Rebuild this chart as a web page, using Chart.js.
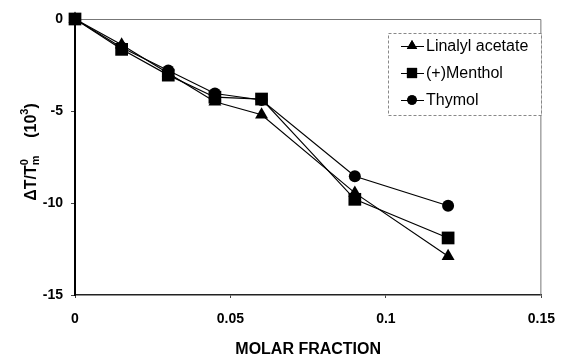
<!DOCTYPE html>
<html>
  <head>
    <meta charset="UTF-8">
    <title>Molar fraction chart</title>
    <script src="https://cdn.jsdelivr.net/npm/chart.js"></script>
    <style>
      html, body { margin: 0; padding: 0; background: #fff; }
      #wrap { width: 568px; height: 360px; }
    </style>
  </head>
  <body>
    <div id="wrap"><canvas id="myChart" width="568" height="360"></canvas></div>

    <script>
      // data
      const molarFraction = [0, 0.015, 0.03, 0.045, 0.06, 0.09, 0.12];
      const linalylAcetate = [0, -1.4, -2.95, -4.5, -5.2, -9.45, -12.9];
      const menthol = [0, -1.65, -3.05, -4.25, -4.35, -9.8, -11.9];
      const thymol = [0, -1.55, -2.8, -4.05, -4.4, -8.55, -10.15];
      const seriesNames = ['Linalyl acetate', '(+)Menthol', 'Thymol'];
      const xTicks = [0, 0.05, 0.1, 0.15];
      const yTicks = [0, -5, -10, -15];

      function pts(ys) {
        return molarFraction.map((x, i) => ({ x: x, y: ys[i] }));
      }

      const FONT = 'Liberation Sans, Arial, sans-serif';

      // gray frame on top/right of the plot area
      const frame = {
        id: 'frame',
        beforeDatasetsDraw(chart) {
          const a = chart.chartArea, ctx = chart.ctx;
          ctx.save();
          ctx.strokeStyle = '#777';
          ctx.lineWidth = 1;
          ctx.beginPath();
          ctx.moveTo(a.left, a.top + 0.5);
          ctx.lineTo(a.right - 0.5, a.top + 0.5);
          ctx.lineTo(a.right - 0.5, a.bottom);
          ctx.stroke();
          ctx.restore();
        }
      };

      // y title with superscripts / subscript
      const yTitle = {
        id: 'yTitle',
        afterDraw(chart) {
          const ctx = chart.ctx;
          ctx.save();
          ctx.translate(30, 152);
          ctx.rotate(-Math.PI / 2);
          ctx.fillStyle = '#000';
          ctx.textBaseline = 'alphabetic';
          const big = 'bold 16px ' + FONT, small = 'bold 11px ' + FONT;
          const parts = [
            ['ΔT/T', big, 0], ['0', small, -8], ['m', small, 3],
            ['    (10', big, 0], ['3', small, -8], [')', big, 0]
          ];
          let w = 0;
          parts.forEach((p, i) => { ctx.font = p[1]; if (i !== 1) w += ctx.measureText(p[0]).width; });
          let x = -w / 2;
          parts.forEach((p, i) => {
            ctx.font = p[1];
            ctx.fillText(p[0], x, 6 + p[2]);
            // subscript m sits under the superscript 0
            if (i === 1) return;
            x += ctx.measureText(p[0]).width;
          });
          ctx.restore();
        }
      };

      // legend box inside the plot area
      const boxLegend = {
        id: 'boxLegend',
        afterDraw(chart) {
          const ctx = chart.ctx;
          const left = 388, top = 33, right = 541, bottom = 115;
          ctx.save();
          ctx.fillStyle = '#fff';
          ctx.fillRect(left, top, right - left, bottom - top);
          ctx.strokeStyle = '#888';
          ctx.lineWidth = 1;
          ctx.setLineDash([3, 2]);
          ctx.strokeRect(left + 0.5, top + 0.5, right - left, bottom - top);
          ctx.setLineDash([]);
          chart.data.datasets.forEach((ds, i) => {
            const y = 46 + i * 27;
            ctx.strokeStyle = '#000';
            ctx.lineWidth = 1;
            ctx.beginPath();
            ctx.moveTo(401, y + 0.5);
            ctx.lineTo(424, y + 0.5);
            ctx.stroke();
            ctx.fillStyle = '#000';
            Chart.helpers.drawPoint(ctx, {
              pointStyle: ds.pointStyle, radius: ds.pointRadius * 0.8, rotation: 0, borderWidth: 0
            }, 412, y);
            ctx.fill();
            ctx.font = '16px ' + FONT;
            ctx.textBaseline = 'middle';
            ctx.fillText(ds.label, 426, y + 1);
          });
          ctx.restore();
        }
      };

      function mkSet(label, ys, style, r) {
        return {
          label: label,
          data: pts(ys),
          borderColor: '#000',
          backgroundColor: '#000',
          borderWidth: 1.2,
          pointStyle: style,
          pointRadius: r,
          pointHoverRadius: r,
          pointBorderWidth: 0,
          tension: 0,
          fill: false,
          clip: false
        };
      }

      const ctx = document.getElementById('myChart').getContext('2d');
      new Chart(ctx, {
        type: 'line',
        data: {
          datasets: [
            mkSet(seriesNames[0], linalylAcetate, 'triangle', 7.5),
            mkSet(seriesNames[1], menthol, 'rect', 9),
            mkSet(seriesNames[2], thymol, 'circle', 6)
          ]
        },
        options: {
          responsive: false,
          animation: false,
          devicePixelRatio: 1,
          layout: { padding: { left: 0, right: 18, top: 19, bottom: 0 } },
          plugins: { legend: { display: false }, tooltip: { enabled: false } },
          scales: {
            x: {
              type: 'linear',
              min: 0, max: 0.15,
              afterBuildTicks(s) { s.ticks = xTicks.map(v => ({ value: v })); },
              afterFit(s) { s.height = 65; },
              border: { color: '#222', width: 1.5 },
              grid: { drawOnChartArea: false, tickLength: 3, color: '#444' },
              ticks: {
                color: '#000', padding: 13,
                font: { family: FONT, size: 14, weight: 'bold' },
                callback: v => String(v)
              },
              title: {
                display: true, text: 'MOLAR FRACTION', color: '#000',
                font: { family: FONT, size: 16, weight: 'bold' },
                padding: { top: 0, bottom: 1 }
              }
            },
            y: {
              min: -15, max: 0,
              afterBuildTicks(s) { s.ticks = yTicks.map(v => ({ value: v })); },
              afterFit(s) { s.width = 75; },
              border: { color: '#000', width: 2 },
              grid: { drawOnChartArea: false, tickLength: 4, color: '#444' },
              ticks: {
                color: '#000', padding: 8,
                font: { family: FONT, size: 14, weight: 'bold' }
              }
            }
          }
        },
        plugins: [frame, yTitle, boxLegend]
      });
    </script>
  </body>
</html>
